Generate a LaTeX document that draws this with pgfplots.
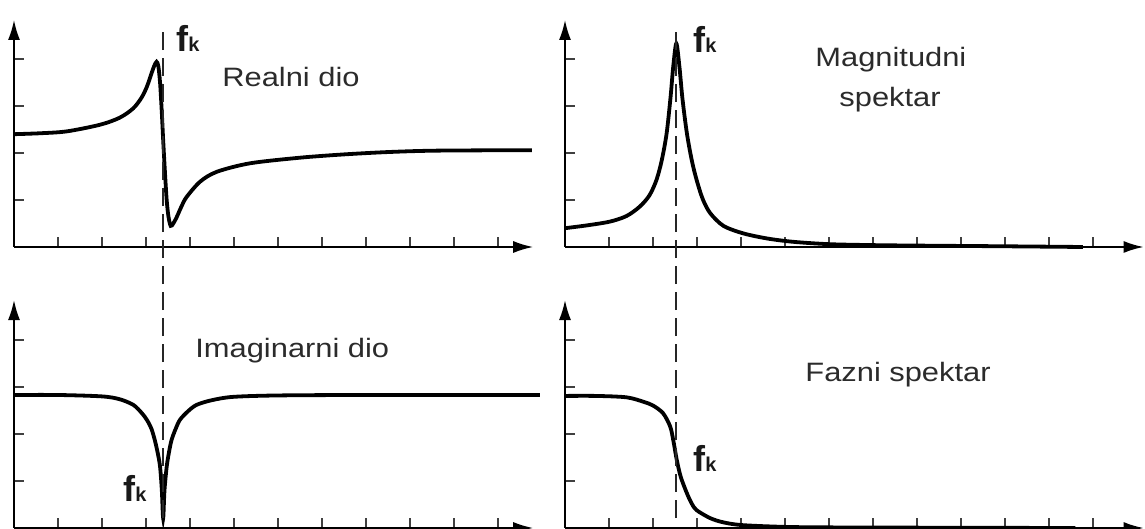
\documentclass[border=0pt]{standalone}
\usepackage{pgfplots}
\pgfplotsset{compat=1.18}
\usepackage{fontspec}
\setmainfont{Liberation Sans}
\usetikzlibrary{arrows.meta}
\definecolor{txt}{HTML}{2B2B2B}
\pgfplotsset{
  panel/.style={
    x=22pt, y=23.5pt, xmin=0, ymin=0,
    axis lines=left,
    axis line style={line width=0.9pt, -{Latex[length=10pt,width=6pt]}},
    tick align=inside, major tick length=5pt,
    tick style={line width=0.6pt, black!75},
    ytick={1,2,3,4}, xticklabels={}, yticklabels={},
    clip=false, anchor=south west,
  },
  curve/.style={black, line width=1.9pt, smooth, tension=0.5, mark=none},
}
\tikzset{fkdash/.style={black!85, line width=0.95pt, dash pattern=on 9pt off 4pt}}
\newcommand{\lbl}[1]{\scalebox{1.16}[1]{#1}}
\newcommand{\fk}{{\fontsize{18}{20}\selectfont\bfseries f\fontsize{10}{11}\selectfont k}}
\begin{document}
\begin{tikzpicture}
\useasboundingbox (0pt,0pt) rectangle (572.5pt,264.5pt);

% Top-left: Realni dio
\begin{axis}[panel, at={(7pt,141pt)}, xmax=11.8, ymax=4.83, xtick={1,...,11}]
\addplot[curve] coordinates {
(0,2.40) (0.6,2.42) (1.2,2.46) (1.95,2.60) (2.4,2.75) (2.71,2.95) (2.9,3.18)
(3.02,3.41) (3.12,3.68) (3.19,3.86) (3.24,3.94) (3.28,3.85) (3.32,3.49)
(3.36,2.85) (3.39,2.28) (3.43,1.60) (3.47,1.00) (3.51,0.65) (3.56,0.45)
(3.62,0.50) (3.70,0.64) (3.80,0.85) (3.92,1.06) (4.23,1.39) (4.61,1.60)
(5.36,1.78) (6.5,1.90) (7.5,1.97) (8.5,2.02) (9.61,2.05) (11.77,2.06)
};
\end{axis}

% Top-right: Magnitudni spektar
\begin{axis}[panel, at={(282.5pt,141pt)}, xmax=13.15, ymax=4.83, xtick={1,...,12}]
\addplot[curve] coordinates {
(0,0.40) (0.5,0.46) (1.02,0.54) (1.4,0.66) (1.70,0.86) (1.92,1.10) (2.08,1.43)
(2.20,1.85) (2.31,2.42) (2.40,3.20) (2.46,3.84) (2.53,4.33) (2.60,3.84)
(2.67,3.15) (2.77,2.42) (2.88,1.85) (2.99,1.43) (3.13,1.02) (3.30,0.72)
(3.6,0.45) (4.05,0.29) (4.6,0.18) (5.19,0.11) (6,0.06) (7,0.04) (8,0.03)
(10,0.015) (11.77,0.0)
};
\end{axis}

% Bottom-left: Imaginarni dio
\begin{axis}[panel, at={(7pt,0.5pt)}, xmax=11.8, ymax=4.85, xtick={1,...,11}]
\addplot[curve] coordinates {
(0,2.83) (1,2.83) (2,2.80) (2.4,2.74) (2.71,2.62) (2.9,2.45) (3.02,2.30)
(3.12,2.12) (3.20,1.87) (3.27,1.58) (3.32,1.30) (3.36,0.80) (3.39,0.21)
(3.42,0.80) (3.47,1.30) (3.52,1.60) (3.58,1.87) (3.67,2.10) (3.77,2.30)
(3.95,2.48) (4.15,2.62) (4.5,2.72) (4.98,2.79) (6,2.82) (8,2.83) (11.95,2.83)
};
\draw[fkdash] (axis cs:3.39,0.21) -- (axis cs:3.39,10.66);
\end{axis}

% Bottom-right: Fazni spektar
\begin{axis}[panel, at={(282.5pt,0.5pt)}, xmax=13.15, ymax=4.85, xtick={1,...,12}]
\addplot[curve] coordinates {
(0,2.81) (0.7,2.81) (1.40,2.78) (1.8,2.68) (2.01,2.60) (2.23,2.44) (2.39,2.16)
(2.46,1.87) (2.54,1.45) (2.63,1.09) (2.77,0.74) (2.88,0.52) (2.99,0.38)
(3.30,0.21) (3.6,0.12) (4.05,0.06) (5.18,0.02) (7,0.01) (11.6,0.0)
};
\draw[fkdash] (axis cs:2.53,0.21) -- (axis cs:2.53,10.66);
\end{axis}

% Labels
\node[anchor=base west, inner sep=0, text=txt, font=\fontsize{13.3}{15}\selectfont] at (111pt,221pt) {\lbl{Realni dio}};
\node[anchor=base west, inner sep=0, text=txt, font=\fontsize{13.3}{15}\selectfont] at (407.5pt,231pt) {\lbl{Magnitudni}};
\node[anchor=base, inner sep=0, text=txt, font=\fontsize{13.3}{15}\selectfont] at (445pt,211pt) {\lbl{spektar}};
\node[anchor=base west, inner sep=0, text=txt, font=\fontsize{13.3}{15}\selectfont] at (97.5pt,85.5pt) {\lbl{Imaginarni dio}};
\node[anchor=base west, inner sep=0, text=txt, font=\fontsize{13.3}{15}\selectfont] at (402.5pt,73.5pt) {\lbl{Fazni spektar}};

\node[anchor=base west, inner sep=0, text=black!90] at (88pt,238.5pt) {\fk};
\node[anchor=base west, inner sep=0, text=black!90] at (346.5pt,238pt) {\fk};
\node[anchor=base west, inner sep=0, text=black!90] at (61.5pt,13.5pt) {\fk};
\node[anchor=base west, inner sep=0, text=black!90] at (346.5pt,28.5pt) {\fk};
\end{tikzpicture}
\end{document}
